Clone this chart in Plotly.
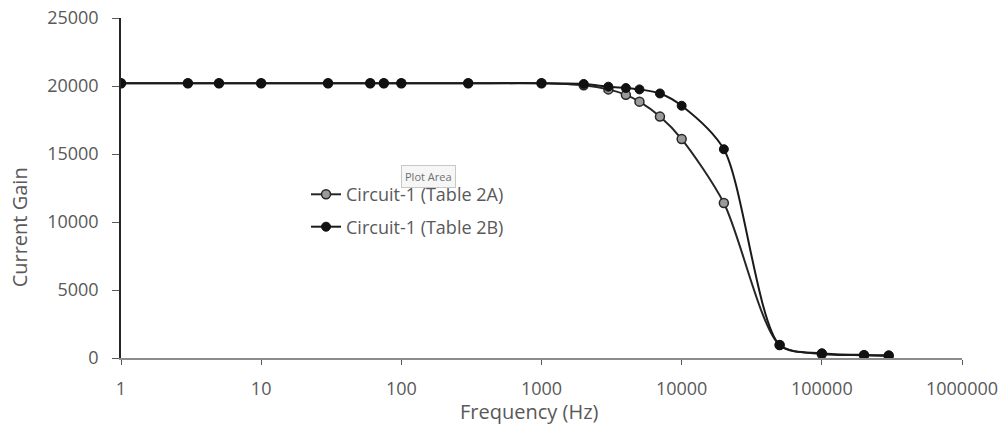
import plotly.graph_objects as go

freq = [1, 3, 5, 10, 30, 60, 75, 100, 300, 1000, 2000, 3000, 4000, 5000, 7000,
        10000, 20000, 50000, 100000, 200000, 300000]
gain_2a = [20200, 20200, 20200, 20200, 20200, 20200, 20200, 20200, 20200, 20200,
           20050, 19750, 19350, 18850, 17750, 16100, 11400, 950, 300, 200, 150]
gain_2b = [20200, 20200, 20200, 20200, 20200, 20200, 20200, 20200, 20200, 20200,
           20150, 19950, 19850, 19750, 19450, 18550, 15350, 950, 350, 220, 200]
x_ticks = [1, 10, 100, 1000, 10000, 100000, 1000000]
x_tick_text = ["1", "10", "100", "1000", "10000", "100000", "1000000"]
y_ticks = [0, 5000, 10000, 15000, 20000, 25000]
y_tick_text = ["0", "5000", "10000", "15000", "20000", "25000"]
series_names = ["Circuit-1 (Table 2A)", "Circuit-1 (Table 2B)"]

font_family = "'Open Sans', Lato, sans-serif"
text_col = "#595959"

fig = go.Figure()
fig.add_trace(go.Scatter(
    x=freq, y=gain_2a, name=series_names[0], mode="lines+markers",
    legendgroup="a",
    line=dict(color="#262626", width=2, shape="spline", smoothing=0.8),
    marker=dict(symbol="circle", size=9, color="#9a9a9a",
                line=dict(color="#262626", width=1.5)),
))
fig.add_trace(go.Scatter(
    x=freq, y=gain_2b, name=series_names[1], mode="lines+markers",
    legendgroup="b",
    line=dict(color="#1a1a1a", width=2, shape="spline", smoothing=0.8),
    marker=dict(symbol="circle", size=9, color="#111111",
                line=dict(color="#111111", width=1)),
))

fig.update_layout(
    width=1005, height=425,
    margin=dict(l=121, r=43, t=18, b=67, autoexpand=False),
    paper_bgcolor="white", plot_bgcolor="white",
    font=dict(family=font_family, color=text_col, size=16),
    showlegend=True,
    legend=dict(x=0.22, y=0.535, xanchor="left", yanchor="top",
                bgcolor="rgba(0,0,0,0)", font=dict(size=18, color=text_col),
                tracegroupgap=6, traceorder="grouped"),
    xaxis=dict(type="log", range=[0, 6], tickvals=x_ticks, ticktext=x_tick_text,
               showgrid=False, zeroline=False, showline=True, automargin=False,
               linecolor="#8c8c8c", linewidth=2, ticks="outside",
               tickcolor="#595959", ticklen=5, tickwidth=1,
               ticklabelstandoff=8,
               tickfont=dict(size=18, color=text_col)),
    yaxis=dict(range=[0, 25000], tickvals=y_ticks, ticktext=y_tick_text,
               showgrid=False, zeroline=False, automargin=False,
               showline=True, linecolor="#262626", linewidth=1.5,
               ticks="outside", tickcolor="#595959", ticklen=7,
               ticklabelstandoff=10,
               tickfont=dict(size=18, color=text_col)),
)

fig.add_annotation(xref="paper", yref="paper", x=0.486, y=-0.156,
                   text="Frequency (Hz)", showarrow=False,
                   font=dict(size=20, color=text_col, family=font_family),
                   xanchor="center", yanchor="middle")
fig.add_annotation(xref="paper", yref="paper", x=-0.121, y=0.385,
                   text="Current Gain", showarrow=False, textangle=-90,
                   font=dict(size=20, color=text_col, family=font_family),
                   xanchor="center", yanchor="middle")

fig.add_annotation(xref="paper", yref="paper", x=0.366, y=0.535,
                   text="Plot Area", showarrow=False,
                   font=dict(size=11, color="#707070", family=font_family),
                   bordercolor="#c8c8c8", borderwidth=1, borderpad=3,
                   bgcolor="rgba(245,245,245,0.9)")

fig.write_html("out.html")
